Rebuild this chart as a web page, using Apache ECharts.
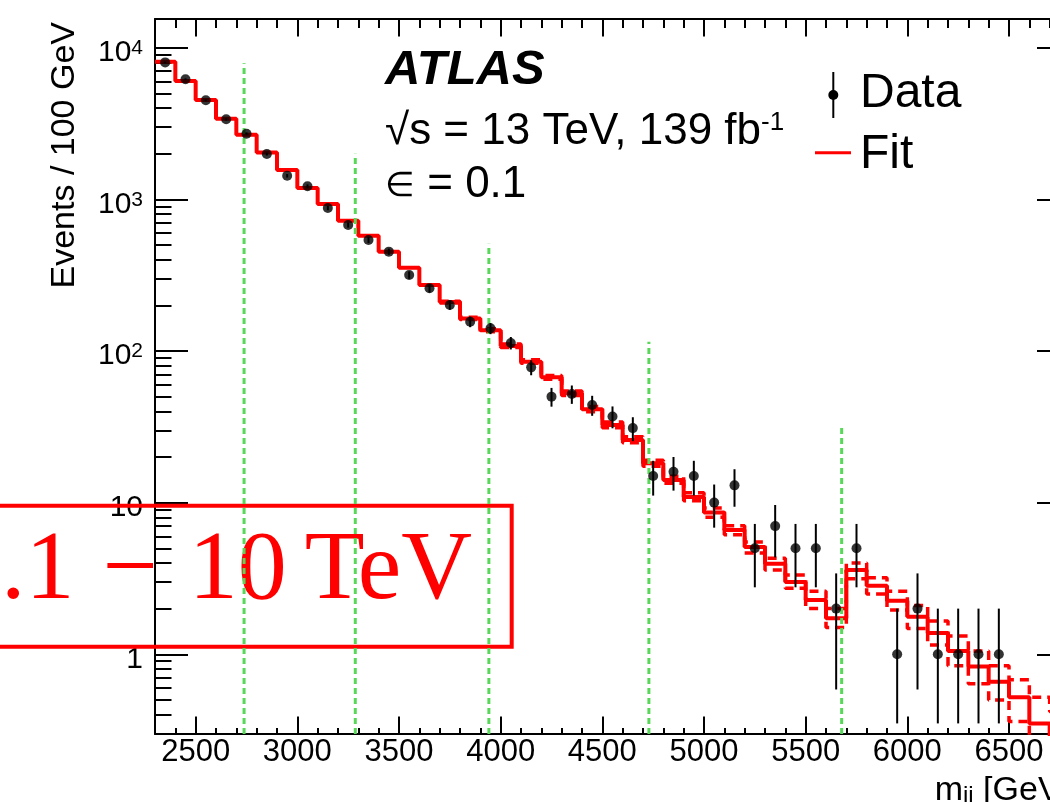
<!DOCTYPE html>
<html>
<head>
<meta charset="utf-8">
<script src="https://cdn.jsdelivr.net/npm/echarts@6/dist/echarts.min.js"></script>
<style>
html,body{margin:0;padding:0;background:#fff;}
#chart{width:1050px;height:802px;}
</style>
</head>
<body>
<div id="chart"></div>
<script>
// 100 GeV bins
var binEdges = [2300,2400,2500,2600,2700,2800,2900,3000,3100,3200,3300,3400,3500,3600,3700,3800,3900,4000,
	4100,4200,4300,4400,4500,4600,4700,4800,4900,5000,5100,5200,5300,5400,5500,5600,5700,5800,5900,6000,
	6100,6200,6300,6400,6500,6600,6700,6800];
var binCenters = [2350,2450,2550,2650,2750,2850,2950,3050,3150,3250,3350,3450,3550,3650,3750,3850,3950,4050,
	4150,4250,4350,4450,4550,4650,4750,4850,4950,5050,5150,5250,5350,5450,5550,5650,5750,5850,5950,6050,
	6150,6250,6350,6450,6550,6650,6750];
// data events per bin (null = empty bin)
var dataCounts = [8000,6200,4500,3370,2710,1990,1430,1220,877,677,539,452,317,259,201,156,141,113,
	78,50,52,44,37,31,15,16,15,10,13,5,7,5,5,2,5,null,1,2,1,1,1,1,null,null,null];
// fit per bin
var fitValues = [8080,6030,4520,3400,2670,2040,1560,1190,930,723,575,451,354,272,210,164,137,108,
	85,67,52.6,41.3,32.5,25.9,18.2,14.1,10.9,8.6,6.6,5.1,3.95,3.0,2.28,1.73,3.6,2.83,2.25,1.77,
	1.38,1.05,0.83,0.66,0.52,0.35,0.28];
// fit uncertainty (dashed)
var fitUp = [null,null,null,null,null,null,null,null,null,null,null,null,null,null,213,167,140,111,
	87.5,69,54.5,43,34,27.2,19.0,14.9,11.6,9.2,7.05,5.5,4.3,3.33,2.6,2.0,4.0,3.2,2.6,2.1,
	1.66,1.32,1.05,0.84,0.68,0.52,0.42];
var fitDown = [null,null,null,null,null,null,null,null,null,null,null,null,null,null,207,161,134,105.5,
	83,65,50.8,39.8,31.2,24.8,17.4,13.4,10.3,8.0,6.15,4.65,3.6,2.73,2.0,1.5,3.15,2.5,1.96,1.48,
	1.15,0.84,0.64,0.50,0.36,0.25,0.2];
// window boundaries (green dashed)
var windowX = [2738,3285,3942,4729,5677];
var windowTop = [7900,2000,510,115,31];

var xTickValues = [2500,3000,3500,4000,4500,5000,5500,6000,6500];
var xMinorTicks = [2400,2600,2700,2800,2900,3100,3200,3300,3400,3600,3700,3800,3900,4100,4200,4300,4400,
	4600,4700,4800,4900,5100,5200,5300,5400,5600,5700,5800,5900,6100,6200,6300,6400,6600,6700];
var yTickValues = [1,10,100,1000,10000];
var yTickBase = ['1','10','10','10','10'];
var yTickPow = ['','','2','3','4'];
var yMinorTicks = [0.4,0.5,0.6,0.7,0.8,0.9,2,3,4,5,6,7,8,9,20,30,40,50,60,70,80,90,
	200,300,400,500,600,700,800,900,2000,3000,4000,5000,6000,7000,8000,9000];

var yMin = 0.298, yMax = 15460;
var sans = '"Liberation Sans", Arial, Helvetica, sans-serif';
var black = {color:'#000', width:2};

// step-histogram paths
function steps(vals){
	var out = [];
	for (var i = 0; i < vals.length; i++) {
		if (vals[i] == null) continue;
		out.push([binEdges[i], vals[i]]);
		out.push([binEdges[i+1], vals[i]]);
	}
	return out;
}
var points = [], errBars = [];
for (var i = 0; i < binCenters.length; i++) {
	if (dataCounts[i] == null) continue;
	var n = dataCounts[i], e = Math.sqrt(n);
	points.push([binCenters[i], n]);
	errBars.push([binCenters[i], Math.max(n - e, 0.35), n + e]);
}
var windows = [];
for (var i = 0; i < windowX.length; i++) windows.push([windowX[i], windowTop[i]]);

var lg = function(v){ return Math.log(v) / Math.LN10; };
var majorLog = yTickValues.map(lg), minorLog = yMinorTicks.map(lg);

function yLabel(v){
	for (var k = 0; k < majorLog.length; k++) {
		if (Math.abs(v - majorLog[k]) < 1e-6) {
			return '{b|' + yTickBase[k] + '}' + (yTickPow[k] ? '{s|' + yTickPow[k] + '}' : '');
		}
	}
	return '';
}

function tickAxis(pos, vals, len, type){
	var ax = {
		type:'value', position:pos, axisLine:{show:false, onZero:false}, splitLine:{show:false},
		axisTick:{inside:true, length:len, lineStyle:black, customValues:vals},
		axisLabel:{show:false}
	};
	if (type == 'x') { ax.min = 2300; ax.max = 6800; }
	else { ax.min = lg(yMin); ax.max = lg(yMax); }
	return ax;
}

var chart = echarts.init(document.getElementById('chart'));
var xTop = tickAxis('top', xTickValues, 17.5, 'x');
xTop.axisLine = {show:true, onZero:false, lineStyle:black};
var yLeft = tickAxis('left', majorLog, 33, 'y');
yLeft.axisLabel = {
	show:true, customValues:majorLog, margin:12, padding:[10,0,0,0], formatter:yLabel,
	color:'#000', fontFamily:sans,
	rich:{
		b:{fontSize:30, lineHeight:30, fontFamily:sans, color:'#000'},
		s:{fontSize:21, lineHeight:16, verticalAlign:'top', fontFamily:sans, color:'#000'}
	}
};
var yRight = tickAxis('right', majorLog, 33, 'y');
yRight.axisLine = {show:true, onZero:false, lineStyle:black};

var option = {
	animation:false,
	backgroundColor:'#fff',
	grid:{left:155, top:19, width:915, height:715, outerBoundsMode:'none'},
	xAxis:[
		{type:'value', min:2300, max:6800, position:'bottom',
			axisLine:{onZero:false, lineStyle:black}, splitLine:{show:false},
			axisTick:{inside:true, length:17.5, lineStyle:black, customValues:xTickValues},
			axisLabel:{customValues:xTickValues, margin:18, verticalAlign:'middle',
				fontSize:31, color:'#000', fontFamily:sans,
				formatter:function(v){ return String(v); }}},
		tickAxis('bottom', xMinorTicks, 6, 'x'),
		xTop,
		tickAxis('top', xMinorTicks, 9, 'x')
	],
	yAxis:[
		{type:'log', logBase:10, min:yMin, max:yMax, position:'left',
			axisLine:{show:true, onZero:false, lineStyle:black},
			axisTick:{show:false}, axisLabel:{show:false}, splitLine:{show:false}},
		yLeft,
		tickAxis('left', minorLog, 16.5, 'y'),
		yRight,
		tickAxis('right', minorLog, 16.5, 'y')
	],
	series:[
		{
			type:'custom', name:'windows', z:6,
			data:windows,
			renderItem:function(params, api){
				var p1 = api.coord([api.value(0), yMin]);
				var p2 = api.coord([api.value(0), api.value(1)]);
				return {type:'line', shape:{x1:p1[0], y1:p1[1], x2:p2[0], y2:p2[1]},
					style:{stroke:'#58d858', lineWidth:3, lineDash:[6,4]}};
			}
		},
		{
			type:'line', name:'Fit', data:steps(fitValues), symbol:'none', z:4,
			lineStyle:{color:'#ff0000', width:4}
		},
		{
			type:'line', name:'Fit up', data:steps(fitUp), symbol:'none', z:4,
			lineStyle:{color:'#ff0000', width:3.5, type:[9,6]}
		},
		{
			type:'line', name:'Fit down', data:steps(fitDown), symbol:'none', z:4,
			lineStyle:{color:'#ff0000', width:3.5, type:[9,6]}
		},
		{
			type:'custom', name:'errors', z:7,
			data:errBars,
			encode:{x:0, y:[1,2]},
			renderItem:function(params, api){
				var p1 = api.coord([api.value(0), api.value(1)]);
				var p2 = api.coord([api.value(0), api.value(2)]);
				return {type:'line', shape:{x1:p1[0], y1:p1[1], x2:p2[0], y2:p2[1]},
					style:{stroke:'#000', lineWidth:2}};
			}
		},
		{
			type:'scatter', name:'Data', data:points, symbol:'circle', symbolSize:10, z:8,
			itemStyle:{color:'#000'}
		}
	],
	graphic:[
		{type:'rect', z:1, shape:{x:-10, y:505.7, width:521.7, height:141},
			style:{fill:'none', stroke:'#ff0000', lineWidth:4}},
		{type:'text', z:1, x:1, y:572, style:{
			text:'{a|.1}{m|\u2212}{b|10}{c|TeV}', verticalAlign:'middle', align:'left', fill:'#ff0000',
			font:'98px "Liberation Serif", "Times New Roman", serif',
			rich:{
				a:{fontSize:98, fontFamily:'"Liberation Serif", serif', fill:'#ff0000'},
				m:{fontSize:98, fontFamily:'"Liberation Serif", serif', fill:'#ff0000', padding:[0,0,0,28]},
				b:{fontSize:98, fontFamily:'"Liberation Serif", serif', fill:'#ff0000', padding:[0,0,0,31]},
				c:{fontSize:98, fontFamily:'"Liberation Serif", serif', fill:'#ff0000', padding:[0,0,0,18]}
			}}},
		{type:'text', z:10, x:385, y:70, style:{
			text:'ATLAS', fill:'#000', verticalAlign:'middle',
			font:'italic bold 49px ' + sans}},
		{type:'text', z:10, x:385, y:131.5, style:{
			text:'{a|\u221As = 13 TeV, 139 fb}{s|-1}', fill:'#000', verticalAlign:'middle',
			font:'44px ' + sans,
			rich:{
				a:{fontSize:44, lineHeight:44, fontFamily:sans, fill:'#000'},
				s:{fontSize:26, lineHeight:20, verticalAlign:'top', fontFamily:sans, fill:'#000'}
			}}},
		{type:'text', z:10, x:385, y:184.8, style:{
			text:'{e|\u2208}{a| = 0.1}', fill:'#000', verticalAlign:'middle', font:'44px ' + sans,
			rich:{
				e:{fontSize:34, lineHeight:44, fontFamily:sans, fill:'#000', padding:[4,0,0,0]},
				a:{fontSize:44, lineHeight:44, fontFamily:sans, fill:'#000'}
			}}},
		{type:'line', z:10, shape:{x1:833.3, y1:72, x2:833.3, y2:118}, style:{stroke:'#000', lineWidth:2}},
		{type:'circle', z:10, shape:{cx:833.3, cy:95, r:5}, style:{fill:'#000'}},
		{type:'text', z:10, x:860, y:93.3, style:{
			text:'Data', fill:'#000', verticalAlign:'middle', font:'48px ' + sans}},
		{type:'line', z:10, shape:{x1:815, y1:152.7, x2:851, y2:152.7}, style:{stroke:'#ff0000', lineWidth:3}},
		{type:'text', z:10, x:860, y:155, style:{
			text:'Fit', fill:'#000', verticalAlign:'middle', font:'48px ' + sans}},
		{type:'text', z:10, x:65, y:22, rotation:Math.PI / 2, style:{
			text:'Events / 100 GeV', fill:'#000', align:'right', verticalAlign:'middle',
			font:'34px ' + sans}},
		{type:'text', z:10, x:1070, y:791, style:{
			text:'{m|m}{s|jj}{m| [GeV]}', fill:'#000', align:'right', verticalAlign:'middle',
			font:'34px ' + sans,
			rich:{
				m:{fontSize:34, lineHeight:34, fontFamily:sans, fill:'#000'},
				s:{fontSize:24, lineHeight:20, verticalAlign:'bottom', fontFamily:sans, fill:'#000'}
			}}}
	]
};
chart.setOption(option);
</script>
</body>
</html>
